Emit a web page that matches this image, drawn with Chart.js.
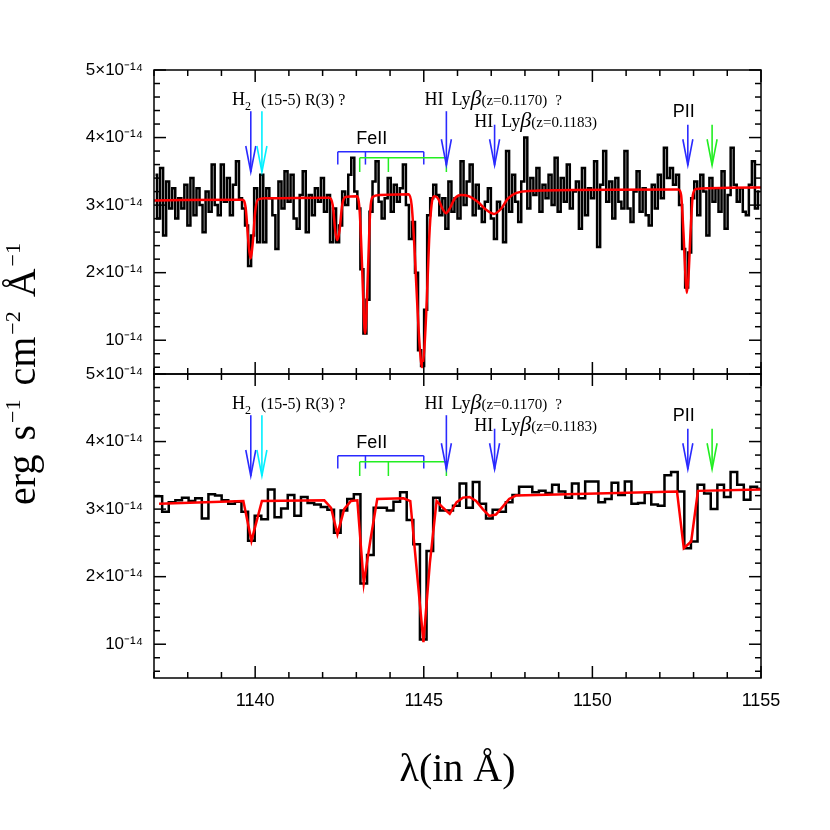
<!DOCTYPE html>
<html>
<head>
<meta charset="utf-8">
<title>Spectrum</title>
<script src="https://cdn.jsdelivr.net/npm/chart.js@4.4.0/dist/chart.umd.min.js"></script>
<style>
  html, body { margin: 0; padding: 0; background: #fff; }
  #wrap { width: 830px; height: 830px; }
</style>
</head>
<body>
<div id="wrap"><canvas id="spectrum" width="830" height="830"></canvas></div>
<script>
const SERIF = '"Liberation Serif", "Times New Roman", serif';
const SANS = '"Liberation Sans", Arial, sans-serif';

// bin centres of the two spectra (Angstrom)
const topStart = 1137.045, topStep = 0.09;
const botStart = 1136.948, botStep = 0.196;

// flux, in units of 1e-14 erg/s/cm2/A
const topFlux = [
  3.45, 2.80, 3.55, 2.55, 3.35, 2.95, 3.25, 2.80, 3.10, 2.95,
  3.30, 2.70, 3.40, 2.85, 3.25, 3.00, 2.60, 3.20, 2.90, 3.60,
  3.00, 2.85, 3.60, 3.05, 3.40, 2.85, 3.30, 3.65, 3.10, 2.95,
  2.70, 2.10, 2.55, 3.25, 2.45, 3.45, 2.45, 3.25, 3.10, 2.85,
  2.35, 3.35, 2.95, 3.50, 3.05, 3.45, 2.80, 2.65, 3.15, 3.50,
  2.60, 3.15, 2.85, 3.25, 3.05, 3.40, 2.90, 3.15, 2.45, 2.95,
  2.45, 2.70, 3.20, 3.00, 3.45, 3.70, 3.20, 2.95, 2.05, 1.10,
  1.60, 2.90, 3.35, 3.65, 3.05, 2.80, 3.10, 3.40, 2.90, 3.30,
  3.05, 3.25, 3.60, 3.00, 2.50, 2.75, 2.00, 0.85, 0.62, 1.45,
  2.85, 3.10, 3.30, 3.15, 2.85, 3.10, 2.65, 3.35, 2.90, 3.10,
  2.80, 3.65, 3.00, 3.35, 3.60, 2.85, 3.30, 2.95, 2.75, 3.05,
  3.25, 2.80, 2.50, 3.05, 2.95, 2.45, 3.80, 2.90, 3.45, 3.05,
  2.75, 3.35, 4.00, 2.95, 3.40, 3.15, 3.55, 2.90, 3.30, 3.10,
  3.45, 3.00, 3.70, 2.90, 3.40, 3.05, 3.60, 2.95, 3.20, 3.35,
  2.65, 3.55, 2.85, 3.25, 3.10, 3.65, 2.38, 3.30, 3.80, 3.05,
  3.35, 2.80, 3.40, 3.05, 2.95, 3.80, 2.95, 2.75, 3.20, 3.50,
  2.90, 3.25, 2.85, 2.70, 3.30, 2.95, 3.45, 3.10, 3.85, 3.40,
  3.55, 3.30, 3.45, 3.00, 2.35, 1.78, 2.30, 3.10, 3.35, 2.85,
  3.45, 3.20, 2.55, 3.40, 3.05, 3.25, 2.90, 3.50, 2.65, 3.15,
  3.85, 3.30, 3.05, 3.25, 2.90, 2.85, 3.30, 3.65, 2.95, 3.20
];

const botFlux = [
  3.19, 3.19, 2.96, 3.10, 3.13, 3.17, 3.12, 3.16, 2.86, 3.22,
  3.20, 3.13, 3.08, 3.11, 2.96, 2.53, 2.90, 2.85, 3.29, 2.88,
  3.01, 3.21, 2.90, 3.18, 3.09, 3.07, 3.03, 2.99, 2.65, 2.98,
  3.15, 3.22, 1.90, 2.32, 3.02, 3.02, 2.98, 3.11, 3.25, 2.84,
  2.48, 1.07, 2.38, 3.17, 2.98, 2.98, 3.05, 3.38, 3.02, 3.40,
  3.08, 2.86, 2.99, 2.96, 3.10, 3.21, 3.33, 3.33, 3.25, 3.27,
  3.24, 3.36, 3.26, 3.17, 3.38, 3.16, 3.41, 3.41, 3.10, 3.15,
  3.39, 3.21, 3.41, 3.08, 3.09, 3.24, 3.07, 3.05, 3.50, 3.55,
  3.26, 2.42, 2.52, 3.36, 3.23, 3.00, 3.36, 3.18, 3.55, 3.36,
  3.14, 3.33, 3.30
];

// fitted model [wavelength, flux]
const topModel = [
  [1137.00, 3.07], [1139.62, 3.08], [1139.72, 2.95], [1139.80, 2.45], [1139.86, 2.21],
  [1139.93, 2.45], [1140.00, 2.90], [1140.08, 3.08], [1140.30, 3.10], [1142.20, 3.11],
  [1142.30, 3.00], [1142.38, 2.60], [1142.43, 2.48], [1142.50, 2.62], [1142.58, 3.00],
  [1142.68, 3.12], [1143.02, 3.13], [1143.10, 2.90], [1143.17, 2.10], [1143.22, 1.40],
  [1143.26, 1.10], [1143.30, 1.40], [1143.35, 2.10], [1143.41, 2.90], [1143.48, 3.12],
  [1143.70, 3.15], [1144.55, 3.16], [1144.64, 3.00], [1144.72, 2.40], [1144.80, 1.60],
  [1144.88, 0.90], [1144.95, 0.60], [1145.02, 0.90], [1145.09, 1.60], [1145.16, 2.50],
  [1145.23, 3.00], [1145.32, 3.13], [1145.42, 3.10], [1145.55, 2.95], [1145.66, 2.88],
  [1145.78, 2.96], [1145.92, 3.10], [1146.10, 3.15], [1146.35, 3.13], [1146.60, 3.05],
  [1146.85, 2.93], [1147.08, 2.87], [1147.30, 2.95], [1147.50, 3.10], [1147.75, 3.18],
  [1148.10, 3.21], [1152.55, 3.23], [1152.63, 3.15], [1152.70, 2.60], [1152.76, 1.95],
  [1152.80, 1.70], [1152.85, 1.95], [1152.91, 2.60], [1152.98, 3.15], [1153.08, 3.24],
  [1155.00, 3.26]
];

const botModel = [
  [1137.15, 3.08], [1139.65, 3.12], [1139.89, 2.53], [1140.20, 3.12], [1142.05, 3.13],
  [1142.25, 3.02], [1142.44, 2.63], [1142.64, 3.00], [1142.84, 3.12], [1143.03, 3.13],
  [1143.22, 1.90], [1143.42, 2.55], [1143.62, 3.15], [1144.40, 3.16], [1144.60, 3.12],
  [1144.79, 2.10], [1144.99, 1.03], [1145.18, 2.20], [1145.38, 3.12], [1145.57, 3.02],
  [1145.77, 2.93], [1145.97, 3.10], [1146.16, 3.17], [1146.36, 3.18], [1146.55, 3.12],
  [1146.75, 3.00], [1146.94, 2.90], [1147.14, 2.92], [1147.33, 3.03], [1147.53, 3.15],
  [1147.73, 3.20], [1152.51, 3.26], [1152.71, 2.42], [1152.93, 2.52], [1153.13, 3.27],
  [1155.00, 3.29]
];

const xMajor = [1140, 1145, 1150, 1155];
const yMajor = [1, 2, 3, 4, 5];

// line identifications (same in both panels)
const BLUE = '#2a2aff', CYAN = '#00f0ff', GREEN = '#22ee22';
const arrows = [
  { x: 1139.87, from: 4.39, tip: 3.49, color: BLUE },
  { x: 1140.20, from: 4.39, tip: 3.49, color: CYAN },
  { x: 1145.67, from: 4.39, tip: 3.59, color: BLUE },
  { x: 1147.10, from: 4.19, tip: 3.59, color: BLUE },
  { x: 1152.83, from: 4.19, tip: 3.59, color: BLUE },
  { x: 1153.55, from: 4.19, tip: 3.59, color: GREEN }
];
const brackets = [
  { y: 3.79, drop: 3.60, marks: [1142.45, 1143.27, 1145.00], color: BLUE },
  { y: 3.70, drop: 3.49, marks: [1143.10, 1143.95, 1145.67], color: GREEN }
];
const labels = [
  { x: 1139.31, y: 4.48, runs: [
    { t: 'H', f: '18px ' + SERIF },
    { t: '2', f: '12px ' + SERIF, dy: 5 },
    { t: '(15-5) R(3) ?', f: '16px ' + SERIF, gap: 10 } ] },
  { x: 1145.02, y: 4.48, runs: [
    { t: 'HI', f: '18px ' + SERIF },
    { t: 'Ly', f: '18px ' + SERIF, gap: 8 },
    { t: 'β', f: 'italic 22px ' + SERIF },
    { t: '(z=0.1170)', f: '15px ' + SERIF },
    { t: '?', f: '15px ' + SERIF, gap: 8 } ] },
  { x: 1146.50, y: 4.16, runs: [
    { t: 'HI', f: '18px ' + SERIF },
    { t: 'Ly', f: '18px ' + SERIF, gap: 8 },
    { t: 'β', f: 'italic 22px ' + SERIF },
    { t: '(z=0.1183)', f: '15px ' + SERIF } ] },
  { x: 1143.46, y: 3.90, center: true, runs: [{ t: 'FeII', f: '18px ' + SANS }] },
  { x: 1152.71, y: 4.30, center: true, runs: [{ t: 'PII', f: '18px ' + SANS }] }
];

function drawRuns(ctx, runs, x, y, center) {
  let total = 0;
  runs.forEach(r => { ctx.font = r.f; total += (r.gap || 0) + ctx.measureText(r.t).width; });
  let cx = center ? x - total / 2 : x;
  runs.forEach(r => {
    ctx.font = r.f;
    cx += r.gap || 0;
    ctx.fillText(r.t, cx, y + (r.dy || 0));
    cx += ctx.measureText(r.t).width;
  });
}

function seg(ctx, x1, y1, x2, y2) {
  ctx.beginPath();
  ctx.moveTo(x1, y1);
  ctx.lineTo(x2, y2);
  ctx.stroke();
}

// frames with inward ticks, line ids and the y title
const decorations = {
  id: 'decorations',
  afterDraw(chart) {
    const { ctx, scales: { x, yTop, yBot } } = chart;
    ctx.save();
    ctx.textAlign = 'left';
    ctx.textBaseline = 'alphabetic';

    for (const y of [yTop, yBot]) {
      ctx.strokeStyle = '#000';
      ctx.lineWidth = 1.5;
      ctx.strokeRect(x.left, y.top, x.right - x.left, y.bottom - y.top);
      for (let w = 1137; w <= 1155; w++) {
        const px = x.getPixelForValue(w);
        const len = w % 5 === 0 ? 12 : 6;
        seg(ctx, px, y.bottom, px, y.bottom - len);
        seg(ctx, px, y.top, px, y.top + len);
      }
      for (let k = 3; k <= 25; k++) {
        const py = y.getPixelForValue(k / 5);
        const len = k % 5 === 0 ? 12 : 6;
        seg(ctx, x.left, py, x.left + len, py);
        seg(ctx, x.right, py, x.right - len, py);
      }

      ctx.lineWidth = 1.5;
      brackets.forEach(b => {
        ctx.strokeStyle = b.color;
        const yy = y.getPixelForValue(b.y);
        const yd = y.getPixelForValue(b.drop);
        const xs = b.marks.map(m => x.getPixelForValue(m));
        seg(ctx, xs[0], yy, xs[xs.length - 1], yy);
        xs.forEach(px => seg(ctx, px, yy, px, yd));
      });

      arrows.forEach(a => {
        const px = x.getPixelForValue(a.x);
        const top = y.getPixelForValue(a.from);
        const tip = y.getPixelForValue(a.tip);
        ctx.strokeStyle = a.color;
        ctx.lineWidth = 1.6;
        seg(ctx, px, top, px, tip);
        ctx.beginPath();
        ctx.moveTo(px - 5, tip - 26);
        ctx.lineTo(px, tip);
        ctx.lineTo(px + 5, tip - 26);
        ctx.stroke();
      });

      ctx.fillStyle = '#000';
      labels.forEach(l => {
        drawRuns(ctx, l.runs, x.getPixelForValue(l.x), y.getPixelForValue(l.y), l.center);
      });
    }

    // shared y title
    const F = '40px ' + SERIF, S = '22px ' + SERIF;
    ctx.translate(35, (yTop.top + yBot.bottom) / 2);
    ctx.rotate(-Math.PI / 2);
    drawRuns(ctx, [
      { t: 'erg', f: F },
      { t: 's', f: F, gap: 14 },
      { t: '−1', f: S, dy: -15, gap: 2 },
      { t: 'cm', f: F, gap: 14 },
      { t: '−2', f: S, dy: -15, gap: 2 },
      { t: 'Å', f: F, gap: 14 },
      { t: '−1', f: S, dy: -15, gap: 2 }
    ], 0, 0, true);
    ctx.restore();
  }
};

const yTick = v => (v === 1 ? '10⁻¹⁴' : v + '×10⁻¹⁴');

function yScale() {
  return {
    type: 'linear',
    position: 'left',
    stack: 'flux',
    stackWeight: 1,
    min: 0.5,
    max: 5,
    grid: { display: false, drawTicks: false },
    border: { display: false },
    afterBuildTicks: s => { s.ticks = yMajor.map(v => ({ value: v })); },
    afterFit: s => { s.width = 154; },
    ticks: {
      color: '#000',
      padding: 11,
      font: { family: SANS, size: 17 },
      callback: yTick
    }
  };
}

const toPoints = (vals, start, step) =>
  vals.map((v, i) => ({ x: +(start + i * step).toFixed(3), y: v }));

new Chart(document.getElementById('spectrum'), {
  type: 'line',
  data: {
    datasets: [
      {
        label: 'model (top)',
        data: topModel.map(p => ({ x: p[0], y: p[1] })),
        yAxisID: 'yTop',
        borderColor: '#ff0000',
        borderWidth: 2.5,
        pointRadius: 0,
        cubicInterpolationMode: 'monotone'
      },
      {
        label: 'model (bottom)',
        data: botModel.map(p => ({ x: p[0], y: p[1] })),
        yAxisID: 'yBot',
        borderColor: '#ff0000',
        borderWidth: 2.5,
        pointRadius: 0
      },
      {
        label: 'flux (top)',
        data: toPoints(topFlux, topStart, topStep),
        yAxisID: 'yTop',
        stepped: 'middle',
        borderColor: '#000',
        borderWidth: 2.5,
        pointRadius: 0
      },
      {
        label: 'flux (bottom)',
        data: toPoints(botFlux, botStart, botStep),
        yAxisID: 'yBot',
        stepped: 'middle',
        borderColor: '#000',
        borderWidth: 2.5,
        pointRadius: 0
      }
    ]
  },
  options: {
    responsive: false,
    animation: false,
    layout: { padding: { top: 70, right: 69, bottom: 0, left: 0 } },
    plugins: { legend: { display: false }, tooltip: { enabled: false } },
    scales: {
      x: {
        type: 'linear',
        min: 1137,
        max: 1155,
        grid: { display: false, drawTicks: false },
        border: { display: false },
        afterBuildTicks: s => { s.ticks = xMajor.map(v => ({ value: v })); },
        afterFit: s => { s.height = 152; },
        ticks: {
          color: '#000',
          padding: 12,
          maxRotation: 0,
          autoSkip: false,
          font: { family: SANS, size: 18 },
          callback: v => String(v)
        },
        title: {
          display: true,
          text: 'λ(in Å)',
          color: '#000',
          font: { family: SERIF, size: 40 },
          padding: { top: 0, bottom: 36 }
        }
      },
      yBot: yScale(),
      yTop: yScale()
    }
  },
  plugins: [decorations]
});
</script>
</body>
</html>
